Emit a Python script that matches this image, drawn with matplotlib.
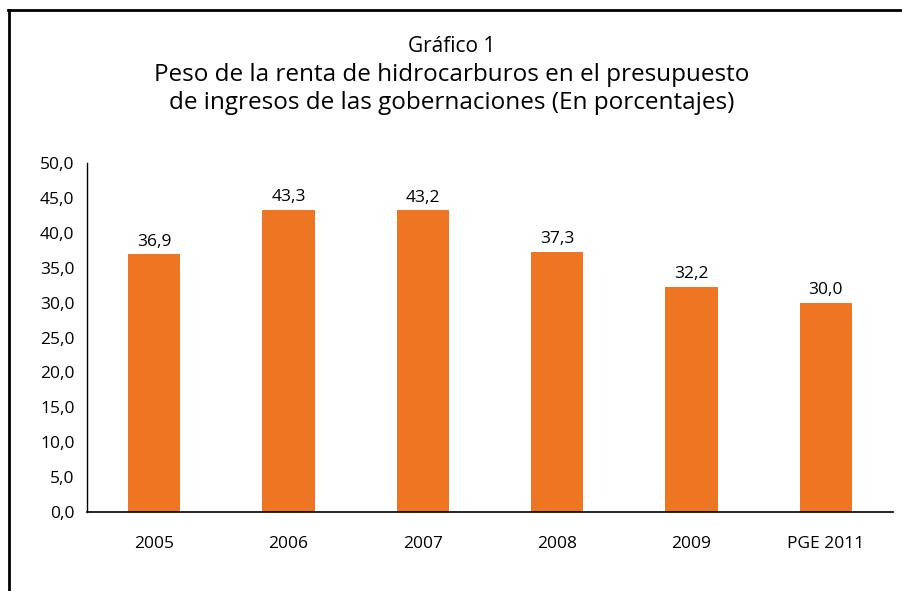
import matplotlib.pyplot as plt
from matplotlib.lines import Line2D

categories = ["2005", "2006", "2007", "2008", "2009", "PGE 2011"]
values = [36.9, 43.3, 43.2, 37.3, 32.2, 30.0]
yticks = [0, 5, 10, 15, 20, 25, 30, 35, 40, 45, 50]

plt.rcParams['font.family'] = ['Open Sans', 'DejaVu Sans']

fig = plt.figure(figsize=(9.03, 5.91), dpi=100)
W, H = 903, 591
ax = fig.add_axes([87 / W, 1 - 512 / H, (893 - 87) / W, (512 - 163) / H])

x = list(range(len(categories)))
ax.bar(x, values, width=0.39, color="#EE7623")
for xi, v in zip(x, values):
    ax.text(xi, v + 0.7, f"{v:.1f}".replace(".", ","), ha="center", va="bottom", fontsize=12.5)

ax.set_xlim(-0.5, 5.5)
ax.set_ylim(0, 50)
ax.set_yticks(yticks)
ax.set_yticklabels([f"{t:.1f}".replace(".", ",") for t in yticks], fontsize=12.5)
ax.set_xticks(x)
ax.set_xticklabels(categories, fontsize=12.5)
ax.tick_params(length=0, pad=9)
ax.tick_params(axis="x", pad=17)
for s in ["top", "right"]:
    ax.spines[s].set_visible(False)
ax.spines["left"].set_linewidth(1)
ax.spines["bottom"].set_linewidth(1.2)

fig.text(452 / W, 1 - 46 / H, "Gráfico 1", ha="center", va="center", fontsize=15)
fig.text(452 / W, 1 - 89 / H, "Peso de la renta de hidrocarburos en el presupuesto\nde ingresos de las gobernaciones (En porcentajes)",
         ha="center", va="center", fontsize=17.5, linespacing=1.22)

# frame around the figure (only top and left visible)
fig.add_artist(Line2D([9 / W, 9 / W], [0, 1 - 10 / H], color="black", lw=2, transform=fig.transFigure))
fig.add_artist(Line2D([8 / W, 1], [1 - 10 / H, 1 - 10 / H], color="black", lw=2, transform=fig.transFigure))

fig.savefig("out.png", dpi=100)
